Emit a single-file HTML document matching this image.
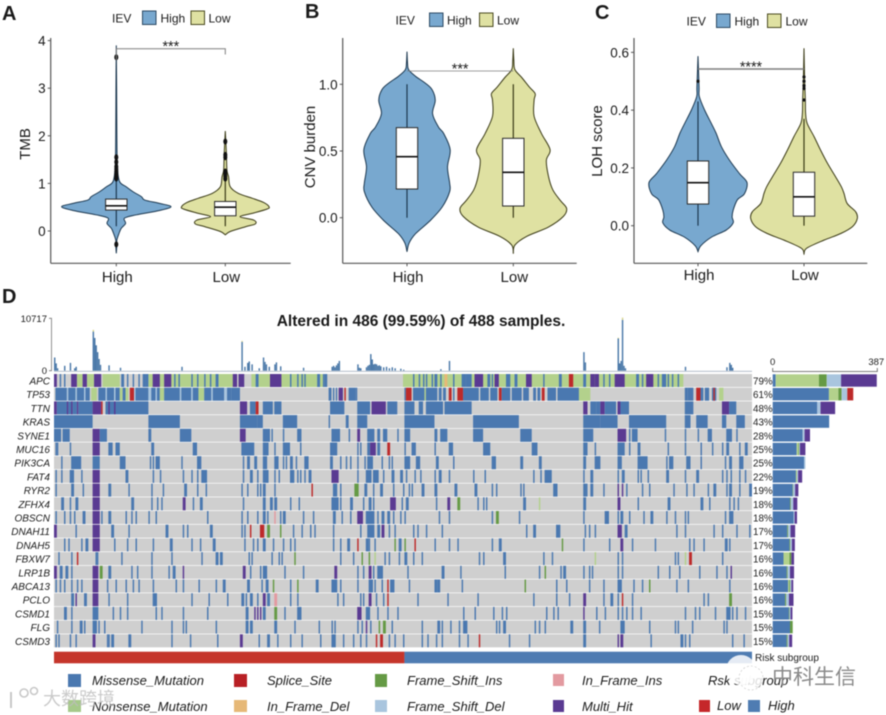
<!DOCTYPE html>
<html lang="en">
<head>
<meta charset="utf-8">
<title>IEV violin plots and oncoplot</title>
<style>
html,body{margin:0;padding:0;background:#fff;}
#figure{display:block;width:886px;height:715px;font-family:"Liberation Sans",sans-serif;filter:blur(0.4px);}
text{font-family:"Liberation Sans","Noto Sans CJK SC",sans-serif;fill:#1a1a1a;}
</style>
</head>
<body>
<svg id="figure" xmlns="http://www.w3.org/2000/svg" width="886" height="715" viewBox="0 0 886 715">
<g id="panels"></g>
<g id="onco"></g>
<text x="2" y="20" font-size="20" font-weight="700">A</text>
<text x="305" y="18" font-size="20" font-weight="700">B</text>
<text x="595" y="19" font-size="20" font-weight="700">C</text>
<text x="2" y="303" font-size="20" font-weight="700">D</text>
<text x="421" y="326" font-size="15.5" font-weight="700" text-anchor="middle">Altered in 486 (99.59%) of 488 samples.</text>
<g font-style="italic" font-size="13">
<rect x="68" y="674" width="13" height="13" fill="#4a78b0"/>
<text x="92" y="685">Missense_Mutation</text>
<rect x="234" y="674" width="13" height="13" fill="#b82025"/>
<text x="267" y="685">Splice_Site</text>
<rect x="375" y="674" width="12" height="13" fill="#659a45"/>
<text x="407" y="685">Frame_Shift_Ins</text>
<rect x="553" y="674" width="11" height="12" fill="#e39aa0"/>
<text x="582" y="685">In_Frame_Ins</text>
<text x="708" y="685">Rsk subgroup</text>
<rect x="68" y="700" width="13" height="12" fill="#a6c98a"/>
<text x="92" y="711">Nonsense_Mutation</text>
<rect x="234" y="700" width="13" height="12" fill="#e6b877"/>
<text x="267" y="711">In_Frame_Del</text>
<rect x="375" y="700" width="12" height="12" fill="#a9c5de"/>
<text x="407" y="711">Frame_Shift_Del</text>
<rect x="553" y="700" width="11" height="12" fill="#5a3a92"/>
<text x="582" y="711">Multi_Hit</text>
<rect x="699" y="700" width="11" height="12" fill="#c5272a"/>
<text x="717" y="710">Low</text>
<rect x="748" y="700" width="12" height="12" fill="#4f7cb2"/>
<text x="768" y="710">High</text>
</g>
<g>
<circle cx="741" cy="670" r="15" fill="#fff" opacity="0.85"/>
<circle cx="751" cy="678" r="12" fill="#fff" stroke="#bbb" stroke-width="0.6" stroke-dasharray="2 2" opacity="0.85"/>
<text x="772" y="684" font-size="21" style="fill:#8a8a8a">中科生信</text>
<circle cx="24" cy="693" r="4" fill="none" stroke="#c8c8c8" stroke-width="1.6"/>
<circle cx="34" cy="691" r="3.5" fill="none" stroke="#c8c8c8" stroke-width="1.6"/>
<line x1="11" y1="692" x2="11" y2="708" stroke="#c8c8c8" stroke-width="2"/>
<text x="43" y="705" font-size="18" style="fill:#bdbdbd" opacity="0.8">大数跨境</text>
</g>
</svg>
<script>
// ---------- Violin panel data (value axis units, relative density) ----------
const groupNames = ['High', 'Low'];

const tmbTicks = [0, 1, 2, 3, 4];
const tmbHighValues = [-.47,-.30,-.19,-.05,.055,.16,.27,.34,.43,.51,.58,.65,.72,.83,.93,1.04,1.35,2.05,3.0,3.9];
const tmbHighDensity = [0,.01,.01,.05,.09,.17,.15,.37,.79,1,.79,.52,.46,.3,.18,.06,.02,.01,.006,0];
const tmbLowValues = [-.08,-.01,.09,.15,.23,.3,.37,.46,.51,.6,.69,.79,.93,1.14,1.28,1.63,2.1];
const tmbLowDensity = [0,.09,.37,.55,.52,.27,.49,.76,.8,.7,.49,.24,.09,.06,.03,.02,0];
const tmbHighBox = [.1,.44,.53,.67,1.07];
const tmbLowBox = [.1,.32,.5,.62,1.1];
const tmbHighOutliers = [3.65,1.55,1.45,1.35,1.3,1.25,1.2,1.15,1.1,-.28];
const tmbLowOutliers = [1.88,1.6,1.55,1.25,1.2,1.15,1.1];

const cnvTicks = ['0.0', '0.5', '1.0'];
const cnvHighValues = [-.255,-.19,-.12,-.02,.08,.195,.26,.38,.51,.63,.68,.78,.88,.96,1.01,1.06,1.11,1.16,1.245];
const cnvHighDensity = [0,.04,.16,.44,.66,.8,.8,.76,.81,.69,.59,.48,.53,.47,.34,.16,.03,.01,0];
const cnvLowValues = [-.27,-.205,-.14,-.07,.01,.07,.13,.21,.31,.43,.51,.63,.76,.88,.93,.98,1.05,1.11,1.18,1.27];
const cnvLowDensity = [0,.03,.25,.66,.94,1,.88,.74,.66,.62,.69,.53,.39,.39,.41,.3,.16,.03,.01,0];
const cnvHighBox = [0,.215,.4575,.675,1];
const cnvLowBox = [0,.0875,.34,.595,1];

const lohTicks = ['0.0', '0.2', '0.4', '0.6'];
const lohHighValues = [-.09,-.07,-.04,-.015,.01,.03,.054,.09,.11,.149,.18,.227,.273,.32,.354,.4,.447,.48,.587];
const lohHighDensity = [0,.05,.25,.53,.66,.64,.66,.74,.87,.92,.78,.59,.44,.34,.25,.125,.025,.02,0];
const lohLowValues = [-.098,-.078,-.05,-.027,-.003,.025,.048,.077,.112,.135,.17,.216,.262,.308,.354,.389,.435,.504,.614];
const lohLowDensity = [0,.05,.375,.69,.91,1,.97,.81,.75,.7,.59,.44,.31,.19,.06,.03,.025,.012,0];
const lohHighBox = [0,.075,.149,.224,.43];
const lohLowBox = [0,.033,.1,.185,.37];
const lohHighOutliers = [.5];
const lohLowOutliers = [.435,.475,.485,.5,.515];

// ---------- Oncoplot data: runs of samples as [firstSample, sampleCount, variantType] ----------
const MIS=0, NON=1, SPL=2, IFD=3, FSI=4, FSD=5, IFI=6, MUL=7;
const sampleCount = 488;
const geneNames = ['APC','TP53','TTN','KRAS','SYNE1','MUC16','PIK3CA','FAT4','RYR2','ZFHX4','OBSCN','DNAH11','DNAH5','FBXW7','LRP1B','ABCA13','PCLO','CSMD1','FLG','CSMD3'];
const genePercents = ['79%','61%','48%','43%','28%','25%','25%','22%','19%','18%','18%','17%','17%','16%','16%','16%','16%','15%','15%','15%'];

const runsAPC = [[16,4,NON],[23,5,NON],[34,12,NON],[66,62,NON],[138,53,NON],[244,196,NON],
 [0,2,MUL],[4,1],[7,1],[12,4,MUL],[20,3,MUL],[28,5,MUL],[47,2],[51,1],[55,1],[59,1],[62,2],[64,2],[69,5,MUL],[77,5,MUL],[84,1],[87,1],[96,1],[100,1],[105,1],[109,1],[113,2],[125,3,MUL],[129,4,MUL],[141,2],[151,8,MUL],[165,1],[170,1],
 [173,1],[175,1],[184,2],[188,1],[189,2],[251,1],[255,1],[258,1],[260,1],[264,1],[266,2],[270,1],[273,2,IFD],[279,1],[285,3],[288,4],[294,6,MUL],[303,2],[306,1],[308,3,MUL],[316,3],[322,2],[330,4,MUL],[342,1],[353,2],[360,3,SPL],[370,2],[375,3,MUL],[378,3,MUL],
 [384,1],[388,1],[392,7,MUL],[407,2],[411,1],[414,5,MUL],[422,1],[425,3],[429,1],[432,1],[436,1]];
const runsTP53 = [[1,8],[9,1,FSD],[10,5],[15,1,FSD],[16,5],[21,1,FSD],[22,3],[26,4,NON],[31,5],[36,1,FSD],[37,5],[42,1,FSD],[43,3],[46,2,NON],[48,2],[50,2,NON],[53,3,SPL],[56,1,FSD],[57,9],[66,2,FSD],[68,3],[71,1,FSD],[72,2],[74,3,NON],[77,11],[88,1,FSD],[89,7],[96,1,FSD],[97,4],[101,4,NON],[105,5],[110,1,FSD],[111,8],[119,2,FSD],[121,3],[124,6],
 [192,2],[195,1],[197,1],[199,3,MUL],[203,1,SPL],[206,5],[211,1],[245,1],[246,4,SPL],[251,8],[259,1,NON],[260,8],[269,2],[272,2],[276,2,SPL],[279,1],[282,4,SPL],[286,11],[298,6],[305,5],[311,2,SPL],[313,6],[320,7],[328,4],[335,2],[338,2],[341,2,SPL],[345,6],[352,15],[367,8,NON],
 [441,2],[443,4],[449,3,SPL],[452,2],[455,3],[460,3],[461,1,SPL],[465,3,NON]];
const runsTTN = [[0,2,MUL],[2,8],[9,1,MUL],[10,3],[12,1,MUL],[13,3],[16,1,MUL],[17,10],[27,6,MUL],[33,1,SPL],[36,7],[38,1,MUL],[42,1,MUL],[43,23],[130,5,MUL],[137,4],[141,2,SPL],[146,7],[154,5],
 [193,10],[212,9],[222,10,MUL],[233,7],[245,7],[255,3],[260,12],[273,19],[370,3,MUL],[375,4],[379,3],[382,3,MUL],[385,8],[394,8],[394,2,MUL],[441,6],[467,5,MUL],[472,5]];
const runsKRAS = [[0,27],[66,22],[130,12],[142,4],[160,10],[192,1],[204,2],[212,7],[245,21],[293,32],[370,12],[382,12],[402,26],[441,4],[449,8],[467,3],[477,6]];
const runsSYNE1 = [[0,5],[6,5],[27,5,MUL],[32,5],[66,2],[88,8],[130,4,MUL],[146,5],[152,1],[160,1],[170,2],[172,1],[194,6],[206,1],[212,2,MUL],[219,5],[226,2],[230,3],[240,1],[245,4],[266,2],[270,5],[293,7],[326,8],[370,7],[394,6,MUL],[402,1],[404,4],[427,1],[441,1],[450,1],[457,3],[470,4],[477,1]];
const runsMUC16 = [[1,1],[2,1],[11,1],[27,5,MUL],[38,3],[43,3],[68,2],[97,3],[131,9],[146,4],[154,1],[160,5],[172,1],[193,5],[212,1],[214,1],[219,2],[221,4,MUL],[226,2],[233,2,SPL],[245,1],[250,3],[266,1],[276,3],[300,5],[334,4],[370,3],[378,1],[394,5],[402,1],[408,2],[429,1],[441,1],[452,1],[460,1],[467,1],[470,2],[479,1],[483,2]];
const runsPIK3CA = [[5,1],[12,7],[27,5],[46,4],[67,1],[69,1],[71,3],[89,1],[100,3],[132,1],[135,2],[140,2],[146,3],[154,3],[160,1],[162,1],[165,2],[169,1],[175,3],[193,2],[200,1],[204,1],[207,1],[212,1],[217,1],[219,4],[229,1],[234,1],[236,1],[245,4],[253,3],[267,2],[279,1],[306,3],[326,2],[339,2],[370,2],[378,4],[394,3],[408,7],[428,1],[430,3],[442,3],[452,1],[469,1],[472,2],[479,3]];
const runsFAT4 = [[1,1],[5,1],[11,3],[19,1],[27,5,MUL],[50,2],[69,1],[74,1],[90,1],[96,1],[100,1],[103,4],[132,1],[137,2],[142,1],[146,4],[154,1],[157,1],[165,3],[170,1],[172,1],[175,1],[178,2],[194,5,MUL],[212,1],[218,4],[223,4],[230,1],[236,2],[242,2],[246,1],[252,1],[256,1],[266,1],[269,2],[276,1],[293,1],[301,1],[335,1],[340,1],[343,5],[370,1],[375,2],[394,1],[397,2],[408,1],[410,1],[415,1],[428,2],[441,1],[449,2],[467,1],[470,1],[473,1],[479,1],[483,1]];
const runsRYR2 = [[1,1],[12,2],[20,1],[27,5,MUL],[38,2],[52,1],[68,1],[76,1],[91,2],[100,1],[106,1],[131,1],[135,1],[142,1],[144,1],[146,2],[154,1],[180,1,SPL],[195,3],[200,1],[210,3,FSI],[217,2],[223,1],[228,2],[237,1],[244,1],[248,1],[250,1],[257,2],[266,2],[280,2],[294,2],[306,1],[309,1],[326,1],[328,1],[349,3],[370,2],[372,1],[375,2],[384,1],[394,1,MUL],[397,1,MUL],[400,1],[411,1],[416,1],[433,1],[442,1],[447,1],[457,1],[461,2],[470,1],[472,2],[479,1],[486,2]];
const runsZFHX4 = [[5,2],[11,1],[15,2],[27,5,MUL],[54,2],[68,1],[72,1],[75,1],[90,2,MUL],[97,1],[102,2],[132,1],[146,2],[151,2],[154,2],[165,1],[171,1],[194,5],[200,1],[207,2],[216,1],[220,2],[223,1],[235,4,MUL],[243,1],[246,2],[267,1],[275,2,MUL],[282,2,FSI],[296,1],[300,1],[302,1],[328,2],[339,1,NON],[370,2],[394,2,MUL],[408,1],[429,2],[452,2],[458,1],[472,1],[475,1],[478,1]];
const runsOBSCN = [[1,1],[7,1],[11,1],[14,1],[20,2],[27,5,MUL],[33,1],[38,2],[50,1],[54,1],[57,1],[66,1],[71,1],[107,1],[131,1],[135,1],[142,1],[146,2],[149,1],[154,1,IFI],[158,1],[160,2],[174,1],[181,1],[195,2],[201,1],[207,1],[212,4,MUL],[218,6],[226,1],[229,2],[233,2],[237,1],[242,1],[245,1],[269,1],[276,1],[306,1],[309,2,FSI],[325,1],[370,1],[385,3],[394,1],[396,2],[402,1],[412,1],[417,2],[428,1],[434,1],[441,1],[443,1],[469,1],[472,3]];
const runsDNAH11 = [[0,2,MUL],[15,1],[27,5,MUL],[40,2],[52,1],[78,2],[90,1],[93,1],[109,2],[131,1],[133,1],[137,1,SPL],[144,3,SPL],[149,2,FSI],[158,1,FSI],[167,1],[173,1],[179,1],[182,1],[195,1],[214,1],[219,5],[226,2],[229,2,MUL],[234,1],[238,1],[251,1],[254,1],[260,1],[271,1],[330,1],[335,2],[351,3],[371,1],[374,1],[378,1],[394,3,MUL],[399,2],[435,1],[441,1],[461,1],[467,1],[477,1],[486,1]];
const runsDNAH5 = [[7,1],[10,1],[19,1],[22,2],[27,5,MUL],[42,1],[51,1],[57,1],[69,1],[81,2],[96,1],[102,1],[111,2],[133,1],[139,1],[142,1],[146,2],[153,1],[160,1],[165,1],[168,1],[195,1],[200,1],[205,2],[212,1,SPL],[218,2],[220,1],[224,1],[238,1,FSI],[241,2],[245,1,FSI],[252,1,SPL],[266,1],[276,1],[282,1],[306,1],[311,2],[355,1,FSI],[370,1],[388,1],[396,2,MUL],[404,1],[420,1],[444,1],[447,1],[454,1],[469,2],[472,1]];
const runsFBXW7 = [[3,1],[12,1],[16,1,SPL],[29,1],[30,1],[47,1],[68,1],[82,1],[103,1],[113,2],[116,2],[136,1],[138,1],[152,1],[157,1],[159,1],[168,1,FSI],[200,1],[209,1],[215,1,FSI],[220,1,FSI],[224,1,NON],[231,1],[234,1],[241,1],[245,2],[251,1],[257,1],[297,1],[300,1],[314,2],[342,1],[348,1],[378,1,NON],[394,1],[397,1],[434,1],[436,1],[441,1,NON],[444,2,SPL],[467,1]];
const runsLRP1B = [[0,2,MUL],[4,2],[8,2],[12,1],[27,4,MUL],[32,2,FSI],[38,2],[54,1],[58,1],[68,1],[80,1],[83,2],[90,1,MUL],[132,2,MUL],[137,1],[144,1],[146,3],[161,1],[174,1],[196,2,MUL],[212,1],[216,1],[220,2,MUL],[223,1],[226,4],[247,1],[271,2],[284,1],[315,1],[339,1],[343,1,FSI],[354,1],[356,2],[370,1],[374,1],[376,1],[394,1],[397,1],[422,1],[430,1],[437,1],[451,1],[463,1],[470,1],[473,1,MUL]];
const runsABCA13 = [[1,1],[4,1],[7,1],[12,1],[16,1],[19,1],[27,4,MUL],[37,1],[43,1],[50,1],[55,1],[59,1],[69,1],[85,1],[90,1],[101,1],[113,1],[118,2],[135,2],[145,1],[148,2],[153,1,FSI],[165,1],[170,1,FSI],[183,2],[194,4],[200,1],[212,1],[220,3],[224,1],[229,1],[233,1,SPL],[235,3],[248,1],[266,2],[268,2],[285,1],[329,1,FSI],[351,1],[358,1],[374,1],[384,1],[394,3],[405,1],[411,1],[416,1,FSI],[435,1],[443,1],[472,1]];
const runsPCLO = [[12,2],[15,1,MUL],[21,1],[22,1],[27,4,MUL],[38,1],[51,1],[69,3],[96,1],[108,1],[121,1],[131,2],[134,1],[137,2],[142,1],[146,2,MUL],[149,2],[154,2,IFI],[165,1],[170,1],[198,1],[202,1],[214,1],[216,1],[220,2,MUL],[225,1],[230,1],[233,1,SPL],[254,1],[275,1],[296,1],[335,1],[351,1],[360,1],[370,2,MUL],[384,1],[389,2],[394,1],[397,1,SPL],[404,1],[454,1],[457,1],[472,2,FSI]];
const runsCSMD1 = [[7,2],[12,1],[27,4],[41,1],[46,1],[51,1],[71,1],[75,1],[90,1],[107,1],[134,2],[140,1,MUL],[142,1,MUL],[144,1,MUL],[146,2],[154,2,FSI],[161,1],[170,2],[172,1],[212,3,MUL],[218,3],[226,1],[233,1],[240,1],[286,1],[294,1],[307,1],[313,1],[316,1],[344,1],[349,1],[352,1],[370,1,MUL],[379,1],[385,1],[394,1],[397,1],[400,1],[404,1],[410,1],[441,1],[448,1],[451,1],[462,1],[470,3],[474,1],[477,1],[483,1]];
const runsFLG = [[2,1],[12,1],[18,2],[21,1],[27,3],[31,1],[35,1],[61,1],[82,1],[90,1],[92,1],[113,1],[134,2],[137,2],[154,2],[168,1],[185,1],[194,1],[196,1],[212,1],[215,1],[218,1,MUL],[221,1],[227,1,FSI],[230,2,FSI],[236,1],[257,1],[268,2],[271,1],[277,1],[283,1],[286,3],[309,1],[311,1],[314,2],[336,1],[339,1],[343,1],[361,2],[370,2],[381,1],[396,3],[416,1],[434,1],[436,1],[446,1],[468,1],[470,1]];
const runsCSMD3 = [[1,1],[3,1],[11,1],[15,1],[27,2,MUL],[37,1],[38,1],[40,2],[52,2],[82,1],[95,1],[114,1],[130,2,MUL],[143,1],[149,2],[156,1],[165,1],[173,1],[186,1],[194,3],[202,1],[209,1],[214,1],[218,1],[225,1,SPL],[228,2,SPL],[234,1],[238,1],[244,1],[257,1],[261,1],[267,1],[271,1],[283,1],[289,1],[297,1,SPL],[318,1],[332,1],[370,2],[394,1,MUL],[396,2,MUL],[417,1],[438,2],[441,1],[444,1],[474,1],[482,1]];
const geneRuns = [runsAPC,runsTP53,runsTTN,runsKRAS,runsSYNE1,runsMUC16,runsPIK3CA,runsFAT4,runsRYR2,runsZFHX4,runsOBSCN,runsDNAH11,runsDNAH5,runsFBXW7,runsLRP1B,runsABCA13,runsPCLO,runsCSMD1,runsFLG,runsCSMD3];

// Per-gene variant counts (right-hand stacked bars)
const countMissense = [11,208,165,209,111,89,116,86,74,64,77,54,62,40,52,57,46,60,64,52];
const countNonsense = [160,35,0,0,0,6,0,4,0,0,0,0,0,22,0,4,0,0,0,0];
const countFsIns = [29,12,0,0,0,3,0,0,2,3,0,3,3,7,3,4,4,2,10,3];
const countFsDel = [53,21,12,0,7,3,5,4,7,9,4,9,6,0,9,4,10,4,0,6];
const countSplice = [0,22,0,0,0,0,0,0,0,0,0,0,0,0,0,0,0,0,0,0];
const countMulti = [132,0,54,0,20,20,0,15,12,15,9,17,11,10,15,7,17,7,0,11];
const countMax = 387;

// Per-sample mutation burden (top bars)
const burdenSamples = [0,1,2,7,11,14,15,27,28,29,30,31,32,38,46,89,131,133,135,136,138,143,146,147,148,150,154,155,158,174,194,195,196,197,198,199,212,213,214,218,219,220,221,222,223,224,225,226,227,228,230,232,234,236,238,242,244,270,276,370,371,394,395,396,397,398,399,441,470,472,473,474];
const burdenValues = [2700,1500,500,1000,1600,500,800,8000,6700,5200,3800,2400,1200,1100,600,800,5900,800,1600,1900,1300,500,2700,1800,1300,800,1300,1700,900,600,800,1000,700,1100,1500,2000,1300,600,500,700,1000,1200,3400,2300,1300,1400,1300,1000,1100,900,700,800,500,700,500,400,200,300,2000,3800,1700,6600,1500,2000,10400,1000,500,800,700,1600,1200,600];
const burdenCapSamples = [27,131,394,397];
const burdenCapValues = [350,200,150,450];
const burdenMax = 10717;
const riskLowCount = 245;

// ---------- Drawing helpers ----------
const SVGNS = 'http://www.w3.org/2000/svg';
function make(parent, tag, attrs, txt) {
  const el = document.createElementNS(SVGNS, tag);
  for (const k in attrs) el.setAttribute(k, attrs[k]);
  if (txt !== undefined) el.textContent = txt;
  parent.appendChild(el);
  return el;
}
function smoothPath(pts) {
  let d = 'M' + pts[0][0].toFixed(2) + ' ' + pts[0][1].toFixed(2);
  for (let i = 0; i < pts.length - 1; i++) {
    const p0 = pts[Math.max(i - 1, 0)], p1 = pts[i], p2 = pts[i + 1], p3 = pts[Math.min(i + 2, pts.length - 1)];
    const c1x = p1[0] + (p2[0] - p0[0]) / 6, c1y = p1[1] + (p2[1] - p0[1]) / 6;
    const c2x = p2[0] - (p3[0] - p1[0]) / 6, c2y = p2[1] - (p3[1] - p1[1]) / 6;
    d += 'C' + c1x.toFixed(2) + ' ' + c1y.toFixed(2) + ' ' + c2x.toFixed(2) + ' ' + c2y.toFixed(2) + ' ' + p2[0].toFixed(2) + ' ' + p2[1].toFixed(2);
  }
  return d;
}

const HIGH_STYLE = {fill:'#78a8cf', stroke:'#1c3850'};
const LOW_STYLE = {fill:'#dfe1a2', stroke:'#3a3a16'};

function drawViolin(g, cx, yScale, vals, dens, widthScale, box, outliers, style, name, outRx, outRy) {
  const right = vals.map((v, i) => [cx + dens[i] * widthScale, yScale(v)]);
  const left = vals.map((v, i) => [cx - dens[i] * widthScale, yScale(v)]).reverse();
  const pr = smoothPath(right);
  const pl = smoothPath(left).replace(/^M[^C]*/, '');
  const violin = make(g, 'path', {d: pr + pl + 'Z', fill: style.fill, stroke: style.stroke, 'stroke-width': 1});
  
  
  const whisker = make(g, 'line', {x1: cx, x2: cx, y1: yScale(box[4]), y2: yScale(box[0]), stroke: style.stroke, 'stroke-width': 1.2});
  
  
  const rect = make(g, 'rect', {x: cx - 10.7, width: 21.4, y: yScale(box[3]), height: yScale(box[1]) - yScale(box[3]), fill: '#fff', stroke: '#2a2a2a', 'stroke-width': 1});
  
  
  const med = make(g, 'line', {x1: cx - 10.7, x2: cx + 10.7, y1: yScale(box[2]), y2: yScale(box[2]), stroke: '#111', 'stroke-width': 1.6});
  
  
  (outliers || []).forEach(o => {
    const c = make(g, 'ellipse', {cx: cx, cy: yScale(o), rx: outRx, ry: outRy, fill: '#111'});
    
    
  });
}

function drawPanel(cfg) {
  const root = document.getElementById('panels');
  const g = make(root, 'g', {});
  
  
  const yScale = v => cfg.y0 - v * cfg.pxPerUnit;
  const axisColor = '#555';
  const yAxis = make(g, 'line', {x1: cfg.left, x2: cfg.left, y1: cfg.top, y2: cfg.bottom, stroke: axisColor, 'stroke-width': 1.2});
  
  
  const xAxis = make(g, 'line', {x1: cfg.left, x2: cfg.right, y1: cfg.bottom, y2: cfg.bottom, stroke: axisColor, 'stroke-width': 1.2});
  
  
  cfg.ticks.forEach(t => {
    const y = yScale(parseFloat(t));
    const tk = make(g, 'line', {x1: cfg.left - 3, x2: cfg.left, y1: y, y2: y, stroke: axisColor, 'stroke-width': 1});
    
    
    const lb = make(g, 'text', {x: cfg.left - 5, y: y + 5, 'font-size': 13.5, 'text-anchor': 'end'}, t);
    
    
  });
  const ylab = make(g, 'text', {x: cfg.ylabX, y: cfg.ylabY, 'font-size': 15, 'text-anchor': 'middle', transform: 'rotate(-90 ' + cfg.ylabX + ' ' + cfg.ylabY + ')'}, cfg.ylabel);
  
  
  groupNames.forEach((n, i) => {
    const cx = cfg.cats[i];
    const tk = make(g, 'line', {x1: cx, x2: cx, y1: cfg.bottom, y2: cfg.bottom + 3, stroke: axisColor, 'stroke-width': 1});
    
    
    const lb = make(g, 'text', {x: cx + 1, y: cfg.xlabY, 'font-size': 15, 'text-anchor': 'middle'}, n);
    
    
  });
  drawViolin(g, cfg.cats[0], yScale, cfg.highVals, cfg.highDens, cfg.widthScale, cfg.highBox, cfg.highOut, HIGH_STYLE, cfg.name + '-high', cfg.outRx, cfg.outRy);
  drawViolin(g, cfg.cats[1], yScale, cfg.lowVals, cfg.lowDens, cfg.widthScale, cfg.lowBox, cfg.lowOut, LOW_STYLE, cfg.name + '-low', cfg.outRx, cfg.outRy);
  const br = make(g, 'path', {d: 'M' + cfg.cats[0] + ' ' + cfg.brY2a + 'V' + cfg.brY + 'H' + cfg.cats[1] + 'V' + cfg.brY2b, fill: 'none', stroke: '#7f7f7f', 'stroke-width': cfg.brW});
  
  
  const st = make(g, 'text', {x: (cfg.cats[0] + cfg.cats[1]) / 2, y: cfg.brY + 2.5, 'font-size': 14.3, 'text-anchor': 'middle'}, cfg.stars);
  
  
  const lg = cfg.legend;
  const title = make(g, 'text', {x: lg.title, y: lg.y + 4.5, 'font-size': 12}, 'IEV');
  
  
  const s1 = make(g, 'rect', {x: lg.s1, y: lg.y - 7, width: 13.5, height: 13.5, fill: HIGH_STYLE.fill, stroke: '#2d4a63', 'stroke-width': 1});
  
  
  const t1 = make(g, 'text', {x: lg.t1, y: lg.y + 4.5, 'font-size': 12}, 'High');
  
  
  const s2 = make(g, 'rect', {x: lg.s2, y: lg.y - 7, width: 13.5, height: 13.5, fill: LOW_STYLE.fill, stroke: '#4a4a20', 'stroke-width': 1});
  
  
  const t2 = make(g, 'text', {x: lg.t2, y: lg.y + 4.5, 'font-size': 12}, 'Low');
  
  
}

drawPanel({name:'tmb-panel', left:50.7, right:290.7, top:38, bottom:263.3, y0:231, pxPerUnit:47.6, cats:[116.3,225.3], widthScale:54.7,
  ticks:tmbTicks.map(String), ylabel:'TMB', ylabX:30, ylabY:144, xlabY:282, outRx:2, outRy:3,
  highVals:tmbHighValues, highDens:tmbHighDensity, highBox:tmbHighBox, highOut:tmbHighOutliers,
  lowVals:tmbLowValues, lowDens:tmbLowDensity, lowBox:tmbLowBox, lowOut:tmbLowOutliers,
  brY:48.7, brY2a:60, brY2b:54.5, brW:1, stars:'***', legend:{title:112, y:18, s1:142.5, t1:160.5, s2:191, t2:208.5}});
drawPanel({name:'cnv-panel', left:342.7, right:576.7, top:38, bottom:263.3, y0:217.7, pxPerUnit:133.4, cats:[407,513.3], widthScale:53.3,
  ticks:cnvTicks, ylabel:'CNV burden', ylabX:315, ylabY:147, xlabY:282, outRx:2, outRy:2,
  highVals:cnvHighValues, highDens:cnvHighDensity, highBox:cnvHighBox, highOut:[],
  lowVals:cnvLowValues, lowDens:cnvLowDensity, lowBox:cnvLowBox, lowOut:[],
  brY:71, brY2a:71, brY2b:71, brW:0.8, stars:'***', legend:{title:395.5, y:20, s1:429.5, t1:447, s2:479.5, t2:497}});
drawPanel({name:'loh-panel', left:634, right:867.3, top:38, bottom:263.3, y0:225.7, pxPerUnit:288.9, cats:[698,804], widthScale:53.3,
  ticks:lohTicks, ylabel:'LOH score', ylabX:602, ylabY:141, xlabY:280, outRx:1.6, outRy:1.6,
  highVals:lohHighValues, highDens:lohHighDensity, highBox:lohHighBox, highOut:lohHighOutliers,
  lowVals:lohLowValues, lowDens:lohLowDensity, lowBox:lohLowBox, lowOut:lohLowOutliers,
  brY:69, brY2a:69, brY2b:69, brW:1.4, stars:'****', legend:{title:686.5, y:21, s1:716.5, t1:734.5, s2:767.5, t2:785.5}});

// ---------- Oncoplot ----------
const VARIANT_COLORS = ['#4a78b0','#b3d18c','#bd2a2a','#e6b877','#659a45','#a9c5de','#e39aa0','#5a3a92'];
const onco = document.getElementById('onco');
const sampleX = s => 54 + s * (698 / sampleCount);
const sampleW = n => n * (698 / sampleCount);
const rowY = i => 374 + i * 13.7;
const ROW_H = 13;

const burdenBaseY = 370.7, burdenTopY = 318.3;
const burdenY = v => burdenBaseY - v / burdenMax * (burdenBaseY - burdenTopY);
burdenSamples.forEach((s, i) => {
  const b = make(onco, 'rect', {x: sampleX(s), width: sampleW(1), y: burdenY(burdenValues[i]), height: burdenBaseY - burdenY(burdenValues[i]), fill: '#4a78a8'});
  
  
});
burdenCapSamples.forEach((s, i) => {
  const base = burdenSamples.indexOf(s);
  const top = burdenValues[base];
  const c = make(onco, 'rect', {x: sampleX(s), width: sampleW(1), y: burdenY(top + burdenCapValues[i]), height: burdenY(top) - burdenY(top + burdenCapValues[i]), fill: '#d8d58a'});
  
  
});
const baseLine = make(onco, 'line', {x1: 54, x2: 752, y1: 371.3, y2: 371.3, stroke: '#a9b4c2', 'stroke-width': 0.8});


const burdenAxis = make(onco, 'path', {d: 'M49 318.3H51.5V370.7H49', fill: 'none', stroke: '#777', 'stroke-width': 0.8});


const burdenTickTop = make(onco, 'text', {x: 47, y: 322, 'font-size': 9.5, 'text-anchor': 'end'}, String(burdenMax));


const burdenTickZero = make(onco, 'text', {x: 47, y: 374, 'font-size': 9.5, 'text-anchor': 'end'}, '0');



geneNames.forEach((gene, i) => {
  const y = rowY(i);
  const row = make(onco, 'rect', {x: 54, y: y, width: 698, height: ROW_H, fill: '#cfcfcf'});
  
  
  geneRuns[i].forEach(run => {
    const c = make(onco, 'rect', {x: sampleX(run[0]), y: y, width: sampleW(run[1]), height: ROW_H, fill: VARIANT_COLORS[run[2] || 0]});
    
    
  });
  const gl = make(onco, 'text', {x: 50, y: y + 10.5, 'font-size': 10, 'font-style': 'italic', 'text-anchor': 'end'}, gene);
  
  
  const pct = make(onco, 'text', {x: 753, y: y + 10.5, 'font-size': 9.8}, genePercents[i]);
  
  
});

// Right-hand stacked bars
const countX = v => 772.7 + v / countMax * 104.6;
const countSeries = [countMissense, countNonsense, countFsIns, countFsDel, countSplice, countMulti];
const countColors = [VARIANT_COLORS[MIS], VARIANT_COLORS[NON], VARIANT_COLORS[FSI], VARIANT_COLORS[FSD], VARIANT_COLORS[SPL], VARIANT_COLORS[MUL]];
geneNames.forEach((gene, i) => {
  let acc = 0;
  countSeries.forEach((series, k) => {
    const v = series[i];
    if (!v) return;
    const seg = make(onco, 'rect', {x: countX(acc), y: rowY(i) + 0.3, width: countX(acc + v) - countX(acc), height: ROW_H - 0.6, fill: countColors[k]});
    
    
    acc += v;
  });
});
const countAxis = make(onco, 'path', {d: 'M' + countX(0) + ' 368V371.5H' + countX(countMax) + 'V368', fill: 'none', stroke: '#555', 'stroke-width': 0.8});


const countZero = make(onco, 'text', {x: countX(0), y: 365, 'font-size': 9.5, 'text-anchor': 'middle'}, '0');


const countTop = make(onco, 'text', {x: countX(countMax) - 1, y: 365, 'font-size': 9.5, 'text-anchor': 'middle'}, String(countMax));



// Risk subgroup strip
const riskLow = make(onco, 'rect', {x: sampleX(0), y: 651.7, width: sampleW(riskLowCount), height: 11.6, fill: '#c5352b'});


const riskHigh = make(onco, 'rect', {x: sampleX(riskLowCount), y: 651.7, width: sampleW(sampleCount - riskLowCount), height: 11.6, fill: '#4f7cb2'});


const riskLabel = make(onco, 'text', {x: 755, y: 661, 'font-size': 10}, 'Risk subgroup');



// Keep title, legend and watermarks above the plots
const svgRoot = document.getElementById('figure');
Array.from(svgRoot.children).forEach(ch => {
  if (ch.id !== 'panels' && ch.id !== 'onco') svgRoot.appendChild(ch);
});
</script>
</body>
</html>
